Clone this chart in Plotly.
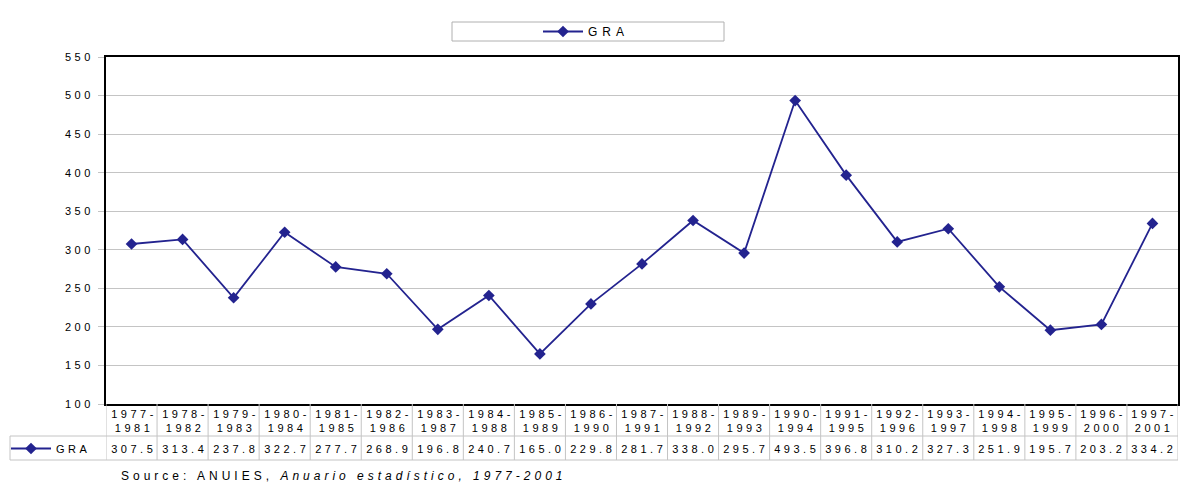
import plotly.graph_objects as go

# ---- data ----
periods = ["1977-1981", "1978-1982", "1979-1983", "1980-1984", "1981-1985", "1982-1986",
           "1983-1987", "1984-1988", "1985-1989", "1986-1990", "1987-1991", "1988-1992",
           "1989-1993", "1990-1994", "1991-1995", "1992-1996", "1993-1997", "1994-1998",
           "1995-1999", "1996-2000", "1997-2001"]
gra = [307.5, 313.4, 237.8, 322.7, 277.7, 268.9, 196.8, 240.7, 165.0, 229.8, 281.7,
       338.0, 295.7, 493.5, 396.8, 310.2, 327.3, 251.9, 195.7, 203.2, 334.2]
y_ticks = [100, 150, 200, 250, 300, 350, 400, 450, 500, 550]
series_name = "GRA"
source_text = "Source: ANUIES, <i>Anuario estadístico, 1977-2001</i>"

NAVY = "#23238F"
GRID = "#C4C4C4"
FONT = "Liberation Sans, Arial, sans-serif"

W, H = 1200, 493
ML, MR, MT, MB = 106, 22, 57, 89
PW = W - ML - MR
PH = H - MT - MB


def py(pix):  # pixel row -> paper y
    return (H - MB - pix) / PH


def px(pix):  # pixel column -> paper x
    return (pix - ML) / PW


fig = go.Figure()
fig.add_trace(go.Scatter(
    x=periods, y=gra, mode="lines+markers", name=series_name,
    line=dict(color=NAVY, width=1.8),
    marker=dict(symbol="diamond", size=9, color=NAVY),
    legend="legend",
))
# legend key inside the data table row
fig.add_trace(go.Scatter(
    x=[None], y=[None], mode="lines+markers", name=series_name,
    line=dict(color=NAVY, width=1.8),
    marker=dict(symbol="diamond", size=9, color=NAVY),
    legend="legend2", hoverinfo="skip",
))

shapes = []
row1_bottom = py(436)
row2_bottom = py(460)
n = len(periods)
# vertical table lines at category boundaries
for i in range(n + 1):
    shapes.append(dict(type="line", xref="x", yref="paper", x0=i - 0.5, x1=i - 0.5,
                       y0=row2_bottom, y1=0, line=dict(color=GRID, width=1)))
# horizontal table lines
for yy in (row1_bottom, row2_bottom):
    shapes.append(dict(type="line", xref="paper", yref="paper", x0=px(10), x1=1,
                       y0=yy, y1=yy, line=dict(color=GRID, width=1)))
shapes.append(dict(type="line", xref="paper", yref="paper", x0=px(10), x1=px(10),
                   y0=row2_bottom, y1=row1_bottom, line=dict(color=GRID, width=1)))
# legend box
shapes.append(dict(type="rect", xref="paper", yref="paper", x0=px(452), x1=px(724),
                   y0=py(41), y1=py(22), line=dict(color="#B0B0B0", width=1),
                   fillcolor="white", layer="below"))

annotations = []
for p, v in zip(periods, gra):
    a, b = p.split("-")
    annotations.append(dict(x=p, xref="x", y=py(420.5), yref="paper", text=f"{a}-<br>{b}",
                            showarrow=False, font=dict(size=11, color="black", family=FONT),
                            xanchor="center", yanchor="middle", xshift=2))
    annotations.append(dict(x=p, xref="x", y=py(448.5), yref="paper", text=f"{v:.1f}",
                            showarrow=False, font=dict(size=11, color="black", family=FONT),
                            xanchor="center", yanchor="middle", xshift=2))
annotations.append(dict(x=px(119), xref="paper", y=py(476), yref="paper", text=source_text,
                        showarrow=False, font=dict(size=12, color="black", family=FONT),
                        xanchor="left", yanchor="middle", align="left", name="source"))

fig.update_layout(
    width=W, height=H,
    margin=dict(l=ML, r=MR, t=MT, b=MB, pad=0, autoexpand=False),
    paper_bgcolor="white", plot_bgcolor="white",
    font=dict(family=FONT, size=11, color="black"),
    showlegend=True,
    legend=dict(xref="container", yref="container", x=538 / W, xanchor="left",
                y=1 - 31.5 / H, yanchor="middle", itemwidth=40,
                entrywidth=140, entrywidthmode="pixels",
                bgcolor="rgba(0,0,0,0)", borderwidth=0, font=dict(size=12),
                orientation="h"),
    legend2=dict(xref="container", yref="container", x=6 / W, xanchor="left",
                 y=1 - 448.5 / H, yanchor="middle", itemwidth=40,
                 entrywidth=120, entrywidthmode="pixels",
                 bgcolor="rgba(0,0,0,0)", borderwidth=0, font=dict(size=11),
                 orientation="h"),
    xaxis=dict(type="category", categoryorder="array", categoryarray=periods,
               range=[-0.5, n - 0.5], showticklabels=False, ticks="",
               showgrid=False, showline=True, linecolor="black", linewidth=2,
               mirror=True, zeroline=False, automargin=False),
    yaxis=dict(range=[y_ticks[0], y_ticks[-1]], tickvals=y_ticks,
               ticks="outside", ticklen=6, tickcolor=GRID, tickwidth=1,
               showgrid=True, gridcolor=GRID, gridwidth=1,
               showline=True, linecolor="black", linewidth=2, mirror=True,
               zeroline=False, tickfont=dict(size=11), ticklabelstandoff=2,
               automargin=False),
    shapes=shapes,
    annotations=annotations,
)

post = ("document.body.style.margin='0';"
        "var d=document.getElementById('{plot_id}');"
        "d.querySelectorAll('text').forEach(function(t){t.style.letterSpacing='3.5px';});"
        "d.querySelectorAll('text.legendtext').forEach(function(t){t.style.letterSpacing='5px';});"
        "d.querySelectorAll('text').forEach(function(t){if(t.textContent.indexOf('Source')===0){t.style.letterSpacing='4px';}});")
fig.write_html("out.html", post_script=post, config={"displayModeBar": False})
